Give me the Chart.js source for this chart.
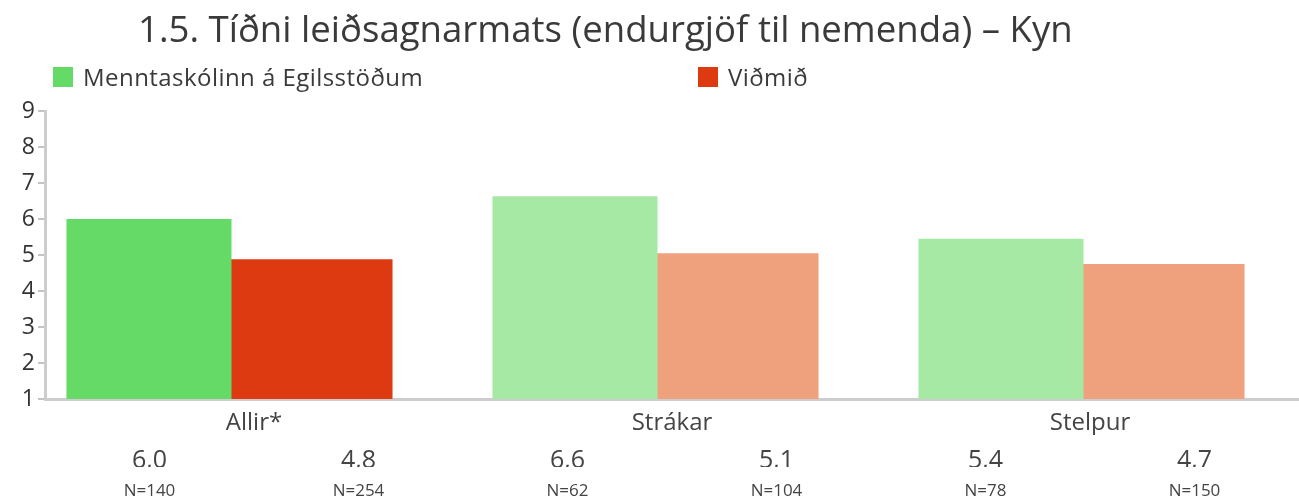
<!DOCTYPE html>
<html><head><meta charset="utf-8">
<script src="https://cdn.jsdelivr.net/npm/chart.js@4"></script>
<style>
html,body{margin:0;padding:0;background:#fff;width:1299px;height:501px;overflow:hidden;font-family:"Open Sans",sans-serif;}
#wrap{position:relative;width:1299px;height:501px;}
#title{position:absolute;left:138px;top:3px;font-size:36.6px;color:#3a3a3a;white-space:nowrap;line-height:50px;}
.leg{position:absolute;top:62px;font-size:24px;letter-spacing:0.45px;color:#3a3a3a;line-height:30px;white-space:nowrap;}
.leg i{position:absolute;left:-30px;top:5px;width:20px;height:20px;}
canvas{position:absolute;left:0;top:0;}
</style></head>
<body><div id="wrap">
<canvas id="c" width="1299" height="501"></canvas>
<div id="title">1.5. Tíðni leiðsagnarmats (endurgjöf til nemenda) – Kyn</div>
<div id="legend"></div>
</div>
<script>
const categories = ['Allir*', 'Strákar', 'Stelpur'];
const seriesNames = ['Menntaskólinn á Egilsstöðum', 'Viðmið'];
const schoolValues = [6.0, 6.63, 5.45];
const benchValues = [4.88, 5.05, 4.75];
const schoolLabels = ['6,0', '6,6', '5,4'];
const benchLabels = ['4,8', '5,1', '4,7'];
const schoolN = ['N=140', 'N=62', 'N=78'];
const benchN = ['N=254', 'N=104', 'N=150'];
const yTickValues = [1, 2, 3, 4, 5, 6, 7, 8, 9];

const schoolColors = ['#66da66', '#a5e9a5', '#a5e9a5'];
const benchColors = ['#dd3a12', '#efa17d', '#efa17d'];
const legendColors = ['#66da66', '#dd3a12'];
const legendLeft = [83, 728];

// legend (HTML)
const lg = document.getElementById('legend');
seriesNames.forEach((n, i) => {
  const d = document.createElement('div');
  d.className = 'leg';
  d.style.left = legendLeft[i] + 'px';
  const box = document.createElement('i');
  box.style.background = legendColors[i];
  d.appendChild(box);
  d.appendChild(document.createTextNode(n));
  lg.appendChild(d);
});

const valueRow = [];
const nRow = [];
categories.forEach((c, i) => {
  valueRow.push(schoolLabels[i], benchLabels[i]);
  nRow.push(schoolN[i], benchN[i]);
});

Chart.defaults.font.family = '"Open Sans", sans-serif';
Chart.defaults.color = '#444';

const fixH = h => s => { s.height = h; };

new Chart(document.getElementById('c'), {
  type: 'bar',
  data: {
    datasets: [
      { label: seriesNames[0], data: schoolValues.map((v, i) => ({ x: i, y: v })), backgroundColor: schoolColors, xAxisID: 'x', yAxisID: 'y' },
      { label: seriesNames[1], data: benchValues.map((v, i) => ({ x: i, y: v })), backgroundColor: benchColors, xAxisID: 'x', yAxisID: 'y' }
    ]
  },
  options: {
    responsive: false,
    animation: false,
    devicePixelRatio: 1,
    categoryPercentage: 0.756,
    barPercentage: 1.025,
    layout: { padding: { top: 111, left: 0, right: 0, bottom: 0 } },
    plugins: { legend: { display: false }, tooltip: { enabled: false }, title: { display: false } },
    scales: {
      x: {
        type: 'linear', display: false, min: -0.4331, max: 2.5106, offset: false,
        afterBuildTicks: s => { s.ticks = categories.map((c, i) => ({ value: i })); }
      },
      xCat: {
        type: 'category', labels: categories, position: 'bottom', offset: true, weight: 1,
        grid: { display: false },
        border: { display: true, color: '#cdcdcd', width: 3 },
        ticks: { font: { size: 24 }, color: '#444', padding: 2, autoSkip: false, maxRotation: 0 },
        afterFit: fixH(36)
      },
      xVal: {
        type: 'category', labels: valueRow, position: 'bottom', offset: true, weight: 2,
        grid: { display: false }, border: { display: false },
        ticks: { font: { size: 25 }, color: '#444', padding: 3, autoSkip: false, maxRotation: 0 },
        afterFit: fixH(32)
      },
      xN: {
        type: 'category', labels: nRow, position: 'bottom', offset: true, weight: 3,
        grid: { display: false }, border: { display: false },
        ticks: { font: { size: 17 }, color: '#444', padding: 6, autoSkip: false, maxRotation: 0 },
        afterFit: fixH(34)
      },
      y: {
        type: 'linear', min: 1, max: 9,
        afterFit: s => { s.width = 45; },
        afterBuildTicks: s => { s.ticks = yTickValues.map(v => ({ value: v })); },
        grid: { display: true, drawOnChartArea: false, drawTicks: true, tickLength: 7, color: '#c4c4c4', lineWidth: 2 },
        border: { display: true, color: '#cdcdcd', width: 3 },
        ticks: { font: { size: 23 }, color: '#333', padding: 3 }
      }
    }
  }
});
</script>
</body></html>
